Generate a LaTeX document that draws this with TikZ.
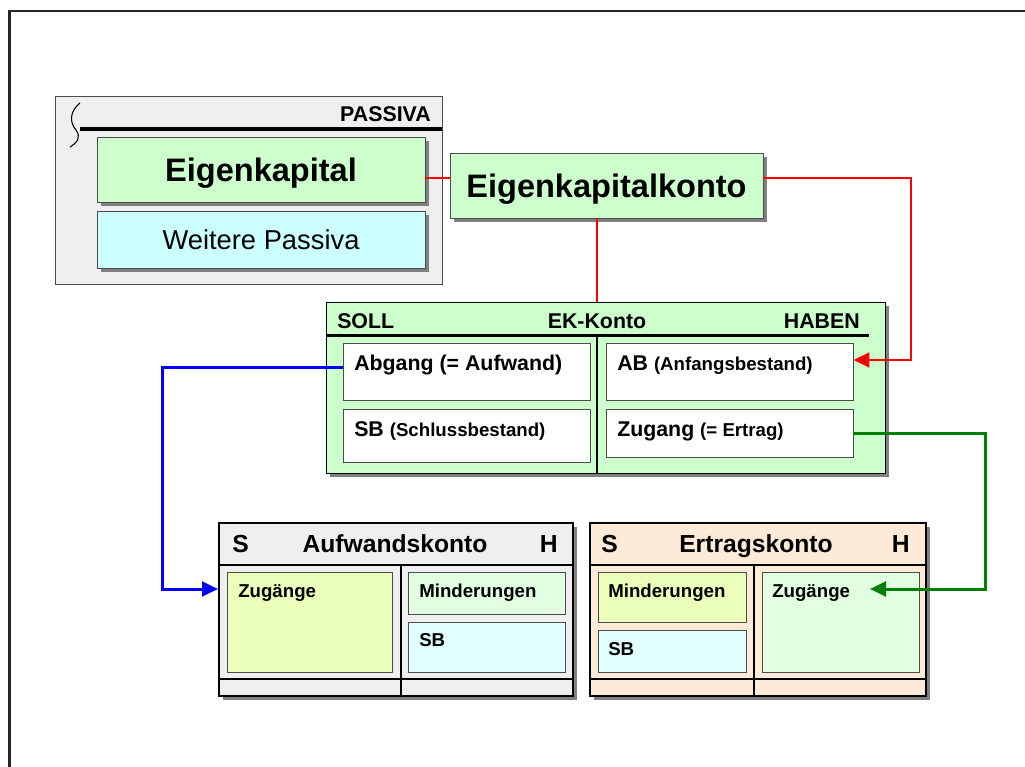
\documentclass[tikz,border=0pt]{standalone}
\usepackage{fontspec}
\setmainfont{Liberation Sans}
\usetikzlibrary{arrows.meta,shadows}
\definecolor{ekgreen}{HTML}{CCFFCC}
\definecolor{ekcyan}{HTML}{CCFFFF}
\definecolor{passgray}{HTML}{EFEFEF}
\definecolor{yellowgr}{HTML}{ECFFBA}
\definecolor{palegr}{HTML}{E2FFE2}
\definecolor{palecy}{HTML}{E2FFFF}
\definecolor{peach}{HTML}{FDEBD8}
\definecolor{darkgr}{HTML}{008000}
\newcommand{\fsz}[1]{\fontsize{#1}{#1}\selectfont}

\begin{document}
\begin{tikzpicture}[x=0.75pt,y=-0.75pt,>={Triangle[length=12pt,width=11pt]},
    shd/.style={drop shadow={shadow xshift=3pt,shadow yshift=-3pt,fill=black!50,opacity=1}},
    box/.style={draw=black!70,line width=0.6pt,inner sep=0pt,text depth=0pt},
    bigbox/.style={box,shd,font=\bfseries\fsz{24.4}},
    konto/.style={box,shd,draw=black,line width=1.5pt},
    cell/.style={box,fill=white},
    lbl/.style={anchor=base west,inner sep=0pt,font=\bfseries\fsz{16}},
    sml/.style={anchor=base west,inner sep=0pt,font=\bfseries\fsz{14}},
    head/.style={inner sep=0pt,font=\bfseries\fsz{18.5}},
    ekline/.style={red,line width=2.2pt},
    aufline/.style={blue,line width=2.25pt},
    ertline/.style={darkgr,line width=2.25pt}]
        \useasboundingbox (0,0) rectangle (1025,767);
        \clip (0,0) rectangle (1025,767);
        \draw[line width=1.6pt,black!85] (9.5,800) |- (1040,11);

        \node[box,fill=passgray,minimum width=290.25pt,minimum height=141pt] (pas) at (248.5,190) {};
        \draw[line width=2.25pt] (80,129) -- (pas.east |- 0,129);
        \draw[line width=0.8pt] (80,103) .. controls (70,111) and (69,122) .. (76,130)
                                         .. controls (81,137) and (78,142) .. (70,147);
        \node[lbl,anchor=base east] (pastxt) at (431,122) {PASSIVA};
        \node[bigbox,fill=ekgreen,minimum width=246pt,minimum height=48.75pt]  (ek)  at (261,169.5) {Eigenkapital};
        \node[box,shd,fill=ekcyan,minimum width=246pt,minimum height=42.75pt,font=\fsz{20.5}] (wp) at (261,239.5) {Weitere Passiva};
        \node[bigbox,fill=ekgreen,minimum width=234.75pt,minimum height=48.75pt] (ekk) at (606.5,185.5) {Eigenkapitalkonto};

        \node[box,shd,draw=black,fill=ekgreen,minimum width=419.25pt,minimum height=128.25pt] (konto) at (605.5,387.5) {};
        \draw[line width=2.25pt] (konto.west |- 0,335) -- (869,335);
        \draw[line width=1.5pt] (597,335) -- (konto.south -| 597,0);
        \node[lbl]                  (soll)  at (337,328) {SOLL};
        \node[lbl,anchor=base]      (ektxt) at (597,328) {EK-Konto};
        \node[lbl,anchor=base east] (haben) at (860,328) {HABEN};
        \node[cell,minimum width=185.25pt,minimum height=42.75pt] (abg) at (466.5,371.5) {};
        \node[cell,minimum width=185.25pt,minimum height=39.75pt] (sb)  at (466.5,435.5) {};
        \node[cell,minimum width=185.25pt,minimum height=42.75pt] (ab)  at (729.5,371.5) {};
        \node[cell,minimum width=185.25pt,minimum height=36pt]    (zug) at (729.5,433)   {};
        \node[lbl] (abgtxt) at (354,370) {Abgang (= Aufwand)};
        \node[lbl] (sbtxt)  at (354,436) {SB {\fsz{14}(Schlussbestand)}};
        \node[lbl] (abtxt)  at (617,370) {AB {\fsz{14}(Anfangsbestand)}};
        \node[lbl] (zugtxt) at (617,436) {Zugang {\fsz{14}(= Ertrag)}};

        \node[konto,fill=passgray,minimum width=265.5pt,minimum height=129.75pt] (aufw) at (396,609.5) {};
        \draw[line width=1.5pt] (aufw.west |- 0,565) -- (aufw.east |- 0,565);
        \draw[line width=1.5pt] (aufw.west |- 0,679) -- (aufw.east |- 0,679);
        \draw[line width=1.5pt] (401,565) -- (aufw.south -| 401,0);
        \node[head,anchor=base west] (as) at (232,552) {S};
        \node[head,anchor=base]      (at) at (395,552) {Aufwandskonto};
        \node[head,anchor=base east] (ah) at (558,552) {H};
        \node[box,fill=yellowgr,minimum width=123.75pt,minimum height=75pt]  (azu)  at (309.5,622) {};
        \node[box,fill=palegr,minimum width=117.75pt,minimum height=31.5pt]  (amin) at (486.5,593) {};
        \node[box,fill=palecy,minimum width=117.75pt,minimum height=37.5pt]  (asb)  at (486.5,647) {};
        \node[sml] (azutxt)  at (238,597) {Zugänge};
        \node[sml] (amintxt) at (419,597) {Minderungen};
        \node[sml] (asbtxt)  at (419,646) {SB};

        \node[konto,fill=peach,minimum width=252pt,minimum height=129.75pt] (ertr) at (758,609.5) {};
        \draw[line width=1.5pt] (ertr.west |- 0,565) -- (ertr.east |- 0,565);
        \draw[line width=1.5pt] (ertr.west |- 0,679) -- (ertr.east |- 0,679);
        \draw[line width=1.5pt] (754,565) -- (ertr.south -| 754,0);
        \node[head,anchor=base west] (es) at (601,552) {S};
        \node[head,anchor=base]      (et) at (756,552) {Ertragskonto};
        \node[head,anchor=base east] (eh) at (910,552) {H};
        \node[box,fill=yellowgr,minimum width=111pt,minimum height=37.5pt]   (emin) at (672,597)   {};
        \node[box,fill=palecy,minimum width=111pt,minimum height=31.5pt]     (esb)  at (672,651)   {};
        \node[box,fill=palegr,minimum width=117.75pt,minimum height=75pt]    (ezu)  at (840.5,622) {};
        \node[sml] (emintxt) at (608,597) {Minderungen};
        \node[sml] (esbtxt)  at (608,655) {SB};
        \node[sml] (ezutxt)  at (772,597) {Zugänge};
        \coordinate (gtip) at (870,589);

        \draw[ekline] (ek.east |- 0,178) -- (ekk.west |- 0,178);
        \draw[ekline] (ekk.south -| 597,0) -- (konto.north -| 597,0);
        \draw[ekline,->] (ekk.east |- 0,178) -| (911,360) -- (ab.east |- 0,360);
        \draw[aufline,->] (abg.west |- 0,367) -| (162,589) -- (aufw.west |- 0,589);
        \draw[ertline,->] (zug.east |- 0,433) -| (985,589) -- (gtip);
\end{tikzpicture}
\end{document}
